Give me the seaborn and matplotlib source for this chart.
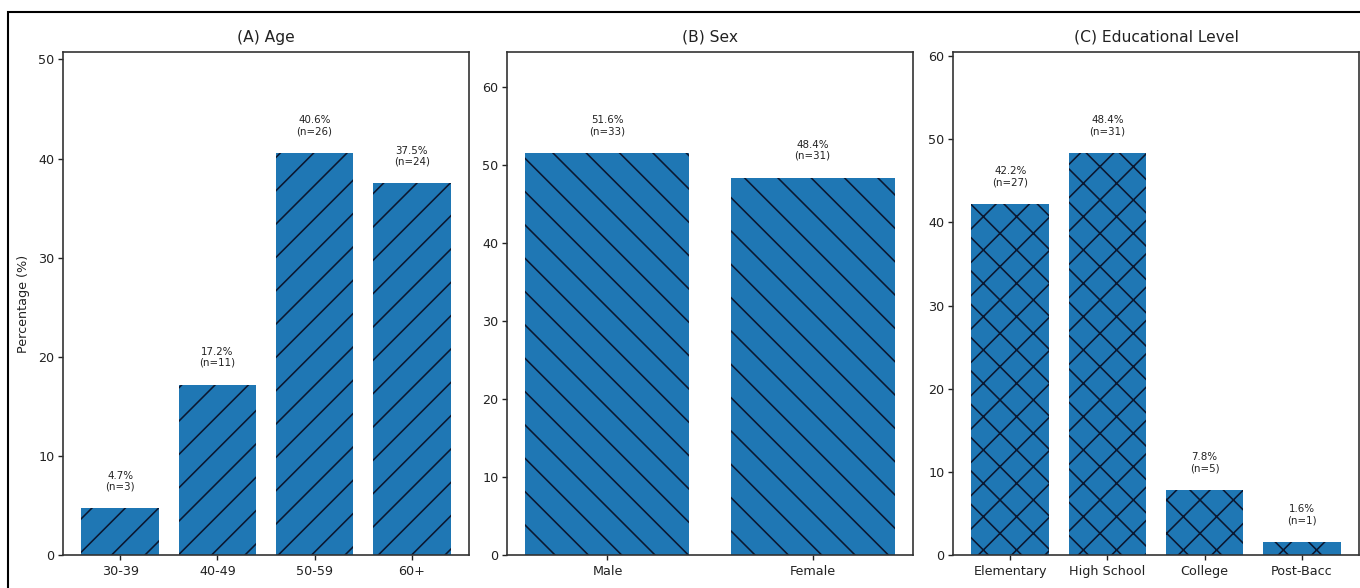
import matplotlib
matplotlib.use("Agg")
import matplotlib.pyplot as plt
import seaborn as sns
from matplotlib.patches import Rectangle

# datos
age_groups = ["30-39", "40-49", "50-59", "60+"]
age_pct = [4.7, 17.2, 40.6, 37.5]
age_n = [3, 11, 26, 24]

sex_groups = ["Male", "Female"]
sex_pct = [51.6, 48.4]
sex_n = [33, 31]

edu_groups = ["Elementary", "High School", "College", "Post-Bacc"]
edu_pct = [42.2, 48.4, 7.8, 1.6]
edu_n = [27, 31, 5, 1]

titles = ["(A) Age", "(B) Sex", "(C) Educational Level"]
hatches = ["/", "\\", "x"]

sns.set_theme(style="ticks")
plt.rcParams["font.family"] = ["DejaVu Sans"]
plt.rcParams["hatch.linewidth"] = 1.15
plt.rcParams["axes.edgecolor"] = "#333333"
plt.rcParams["axes.linewidth"] = 1.2

DPI = 100
fig = plt.figure(figsize=(1360 / DPI, 588 / DPI), dpi=DPI, facecolor="white")

# posiciones de los tres paneles (fraccion de figura)
lefts = [63 / 1360, 507 / 1360, 953 / 1360]
width = 406 / 1360
bottom = 1 - 555 / 588
height = (555 - 52) / 588

panels = [
    (age_groups, age_pct, age_n),
    (sex_groups, sex_pct, sex_n),
    (edu_groups, edu_pct, edu_n),
]

for i, (cats, pct, counts) in enumerate(panels):
    ax = fig.add_axes([lefts[i], bottom, width, height])
    sns.barplot(x=cats, y=pct, color="#1f77b4", saturation=1, errorbar=None,
                hatch=hatches[i], edgecolor="#0b1730", linewidth=0, width=0.8, ax=ax)
    # margenes estilo matplotlib
    ax.margins(x=0.05)
    ax.autoscale(enable=True, axis="x")
    top = max(pct) * 1.25
    ax.set_ylim(0, top)
    for j, (p, n) in enumerate(zip(pct, counts)):
        ax.text(j, p + top * 0.033, f"{p:.1f}%\n(n={n})", ha="center", va="bottom",
                fontsize=7.4, color="#222222", linespacing=1.15)
    ax.set_title(titles[i], fontsize=11.2, pad=7.5, color="#222222")
    ax.tick_params(axis="both", labelsize=9.2, length=3.6, width=1.0, pad=2.4,
                   colors="#222222")
    ax.tick_params(axis="x", pad=3.6)
    ax.set_xlabel("")
    if i == 0:
        ax.set_ylabel("Percentage (%)", fontsize=9.2, labelpad=6, color="#222222")
    for s in ax.spines.values():
        s.set_visible(True)

# marco exterior de la figura (cortado a la derecha y abajo)
fig.patches.append(Rectangle((8 / 1360, -0.2), 1.2, 1.2 - 12 / 588,
                             transform=fig.transFigure, fill=False,
                             edgecolor="black", linewidth=1.5))

fig.savefig("out.png", dpi=DPI, facecolor="white")
